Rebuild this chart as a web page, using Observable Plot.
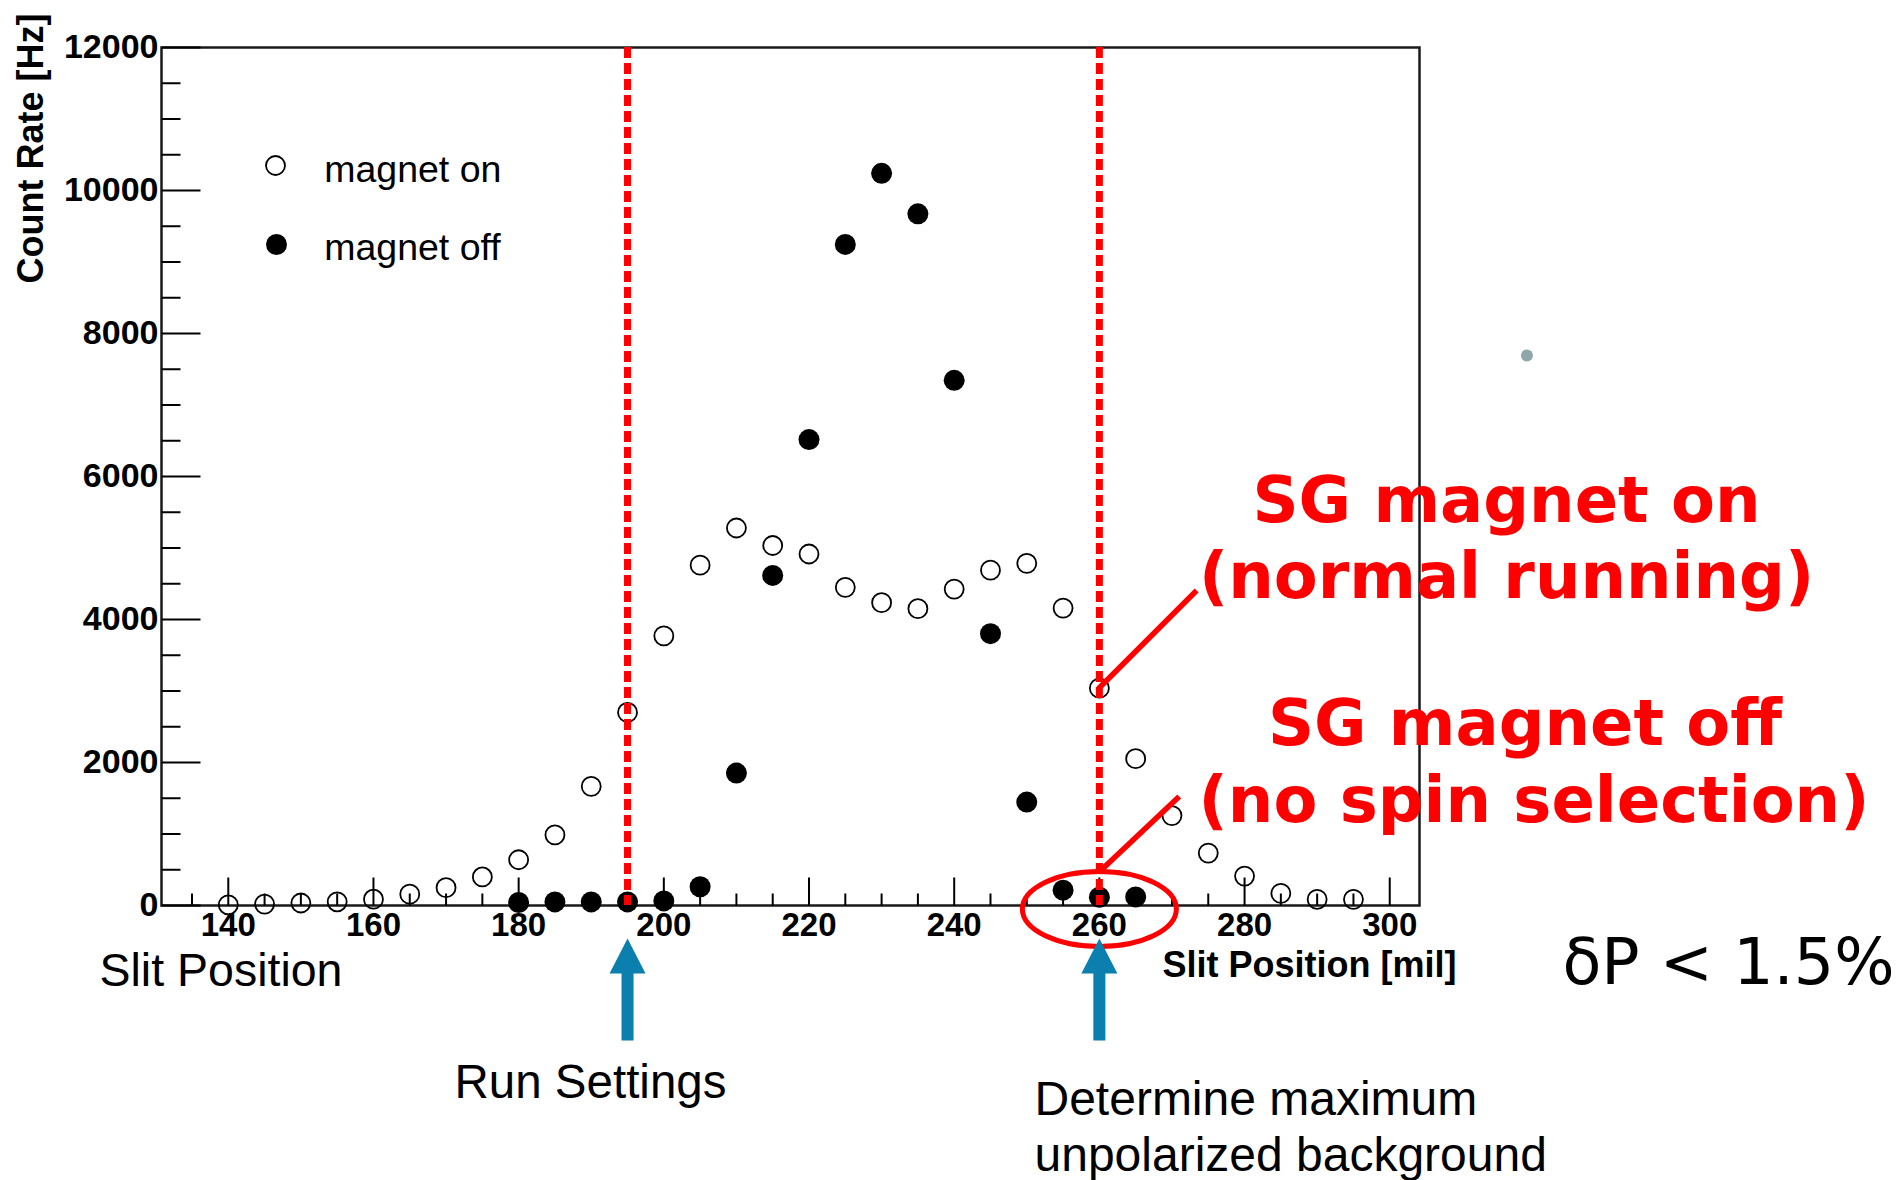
<!DOCTYPE html>
<html>
<head>
<meta charset="utf-8">
<script src="https://cdn.jsdelivr.net/npm/d3@7"></script>
<script src="https://cdn.jsdelivr.net/npm/@observablehq/plot@0.6"></script>
<style>
  html, body { margin: 0; padding: 0; background: #fff; overflow: hidden; }
  #chart svg { display: block; }
</style>
</head>
<body>
<div id="chart"></div>
<script>
// Slit scan of the beam: count rate vs. slit position, Stern–Gerlach magnet on / off.

// magnet on (open circles)
const onPositions = [140, 145, 150, 155, 160, 165, 170, 175, 180, 185, 190, 195, 200, 205, 210, 215,
                     220, 225, 230, 235, 240, 245, 250, 255, 260, 265, 270, 275, 280, 285, 290, 295];
const onRates = [10, 20, 35, 52, 88, 158, 249, 399, 640, 987, 1667, 2700, 3770, 4760, 5280, 5035,
                 4916, 4450, 4235, 4152, 4425, 4690, 4785, 4160, 3040, 2054, 1257, 733, 411, 170, 87, 86];

// magnet off (filled circles)
const offPositions = [180, 185, 190, 195, 200, 205, 210, 215, 220, 225, 230, 235, 240, 245, 250, 255, 260, 265];
const offRates = [42, 50, 50, 50, 64, 262, 1852, 4617, 6516, 9246, 10240, 9674, 7345, 3802, 1446, 215, 116, 120];

// axis ticks
const xMajorTicks = [140, 160, 180, 200, 220, 240, 260, 280, 300];
const yMajorTicks = [0, 2000, 4000, 6000, 8000, 10000, 12000];
const xMinorTicks = d3.range(135, 301, 5).filter(v => v % 20 !== 0);
const yMinorTicks = d3.range(500, 12000, 500).filter(v => v % 2000 !== 0);

// slit settings marked on the scan: run setting and background check
const settingPositions = [195, 260];
const seriesNames = ["magnet on", "magnet off"];

// callout leaders: from the labels to the points they describe
const leaderStart = [{x: 273.4, y: 4406}, {x: 271.0, y: 1524}];
const leaderEnd = [{x: 259.9, y: 3035}, {x: 259.9, y: 462}];

// stray marker to the right of the frame
const strayDot = [{x: 318.9, y: 7692}];

const onData = onPositions.map((x, i) => ({x, y: onRates[i]}));
const offData = offPositions.map((x, i) => ({x, y: offRates[i]}));
const leaders = leaderStart.map((s, i) => ({x1: s.x, y1: s.y, x2: leaderEnd[i].x, y2: leaderEnd[i].y}));

const RED = "#ff0000";
const BLUE = "#0b7fae";
const SANS = "Liberation Sans, Arial, Helvetica, sans-serif";
const DEJAVU = "DejaVu Sans, Verdana, sans-serif";

// straight tick drawn upward from the anchor
const tickShape = {draw(ctx, l) { ctx.moveTo(0, 0); ctx.lineTo(0, -l); }};

// solid block arrow pointing up from its base
const blockArrow = {
  draw(ctx, l) {
    const sw = 6, hw = 18, hl = 35;
    ctx.moveTo(-sw, 0);
    ctx.lineTo(-sw, -(l - hl));
    ctx.lineTo(-hw, -(l - hl));
    ctx.lineTo(0, -l);
    ctx.lineTo(hw, -(l - hl));
    ctx.lineTo(sw, -(l - hl));
    ctx.lineTo(sw, 0);
    ctx.closePath();
  }
};

// ellipse outline used to ring the background points
const ringSymbol = {
  draw(ctx) {
    const a = 77, b = 37.5, k = 0.5523;
    ctx.moveTo(a, 0);
    ctx.bezierCurveTo(a, k * b, k * a, b, 0, b);
    ctx.bezierCurveTo(-k * a, b, -a, k * b, -a, 0);
    ctx.bezierCurveTo(-a, -k * b, -k * a, -b, 0, -b);
    ctx.bezierCurveTo(k * a, -b, a, -k * b, a, 0);
    ctx.closePath();
  }
};

const note = (str, opts) => Plot.text([str], {text: d => d, frameAnchor: "top-left", ...opts});

const plot = Plot.plot({
  width: 1899,
  height: 1180,
  marginLeft: 161,
  marginRight: 480,
  marginTop: 47,
  marginBottom: 275,
  style: {fontFamily: SANS, background: "#fff", color: "#000", overflow: "visible"},
  x: {domain: [130.8, 304.1]},
  y: {domain: [0, 12000]},
  marks: [
    Plot.frame({stroke: "#1a1a1a", strokeWidth: 2.5}),

    // ticks pointing into the frame
    Plot.vector(xMinorTicks, {x: d => d, frameAnchor: "bottom", length: 12, anchor: "start", shape: tickShape, stroke: "#000", strokeWidth: 2, strokeLinecap: "butt"}),
    Plot.vector(xMajorTicks, {x: d => d, frameAnchor: "bottom", length: 28, anchor: "start", shape: tickShape, stroke: "#000", strokeWidth: 2, strokeLinecap: "butt"}),
    Plot.vector(yMinorTicks, {y: d => d, frameAnchor: "left", length: 19, rotate: 90, anchor: "start", shape: tickShape, stroke: "#000", strokeWidth: 2, strokeLinecap: "butt"}),
    Plot.vector(yMajorTicks, {y: d => d, frameAnchor: "left", length: 39, rotate: 90, anchor: "start", shape: tickShape, stroke: "#000", strokeWidth: 2, strokeLinecap: "butt"}),

    // tick labels
    Plot.axisX({ticks: xMajorTicks, tickSize: 0, tickPadding: 7, label: null, tickFormat: d3.format("d"),
                fontSize: 33, fontWeight: "bold", fontFamily: SANS}),
    Plot.axisY({ticks: yMajorTicks, tickSize: 0, tickPadding: 3, label: null, tickFormat: d3.format("d"),
                fontSize: 34, fontWeight: "bold", fontFamily: SANS}),

    // axis titles
    note("Count Rate [Hz]", {dx: -130, dy: -34, rotate: -90, textAnchor: "end", lineAnchor: "middle",
                             fontSize: 36, fontWeight: "bold"}),
    note("Slit Position [mil]", {dx: 1295, dy: 929, textAnchor: "end", lineAnchor: "bottom",
                                 fontSize: 36, fontWeight: "bold"}),

    // data
    Plot.dot(onData, {x: "x", y: "y", r: 9.5, stroke: "#000", strokeWidth: 1.8, fill: "none"}),
    Plot.dot(offData, {x: "x", y: "y", r: 10.5, fill: "#000", stroke: "none"}),

    // legend
    Plot.dot([seriesNames[0]], {frameAnchor: "top-left", dx: 114, dy: 118, r: 9.5, stroke: "#000", strokeWidth: 1.8, fill: "none"}),
    Plot.dot([seriesNames[1]], {frameAnchor: "top-left", dx: 115, dy: 197, r: 10.5, fill: "#000"}),
    note(seriesNames[0], {dx: 162.7, dy: 134.7, textAnchor: "start", lineAnchor: "bottom", fontSize: 37.5}),
    note(seriesNames[1], {dx: 162.7, dy: 212, textAnchor: "start", lineAnchor: "bottom", fontSize: 37.5}),

    // marked slit settings
    Plot.ruleX(settingPositions, {stroke: RED, strokeWidth: 7, strokeDasharray: "11,5"}),

    // callouts
    Plot.link(leaders, {x1: "x1", y1: "y1", x2: "x2", y2: "y2", stroke: RED, strokeWidth: 5.5, strokeLinecap: "butt"}),
    Plot.dot([settingPositions[1]], {x: d => d, frameAnchor: "bottom", dy: 3.5, symbol: ringSymbol, stroke: RED, strokeWidth: 5, fill: "none"}),
    note("SG magnet on", {dx: 1345, dy: 474, textAnchor: "middle", lineAnchor: "bottom", fontFamily: DEJAVU, fontWeight: "bold", fontSize: 64, fill: RED}),
    note("(normal running)", {dx: 1345, dy: 550, textAnchor: "middle", lineAnchor: "bottom", fontFamily: DEJAVU, fontWeight: "bold", fontSize: 64, fill: RED}),
    note("SG magnet off", {dx: 1363.5, dy: 697, textAnchor: "middle", lineAnchor: "bottom", fontFamily: DEJAVU, fontWeight: "bold", fontSize: 64, fill: RED}),
    note("(no spin selection)", {dx: 1372.5, dy: 774, textAnchor: "middle", lineAnchor: "bottom", fontFamily: DEJAVU, fontWeight: "bold", fontSize: 64, fill: RED}),

    // arrows below the axis
    Plot.vector(settingPositions, {x: d => d, frameAnchor: "bottom", dy: 135, length: 102, anchor: "start", shape: blockArrow, fill: BLUE, stroke: "none"}),

    // slide notes
    note("Slit Position", {dx: -62, dy: 938, textAnchor: "start", lineAnchor: "bottom", fontSize: 46.5}),
    note("Run Settings", {dx: 293, dy: 1050, textAnchor: "start", lineAnchor: "bottom", fontSize: 47.5}),
    note("Determine maximum", {dx: 873, dy: 1067, textAnchor: "start", lineAnchor: "bottom", fontSize: 48}),
    note("unpolarized background", {dx: 873, dy: 1123, textAnchor: "start", lineAnchor: "bottom", fontSize: 48}),
    note("δP < 1.5%", {dx: 1401, dy: 936, textAnchor: "start", lineAnchor: "bottom", fontFamily: DEJAVU, fontSize: 63.5}),

    Plot.dot(strayDot, {x: "x", y: "y", r: 6, fill: "#8fa6ab", stroke: "none"})
  ]
});

document.getElementById("chart").append(plot);
</script>
</body>
</html>
